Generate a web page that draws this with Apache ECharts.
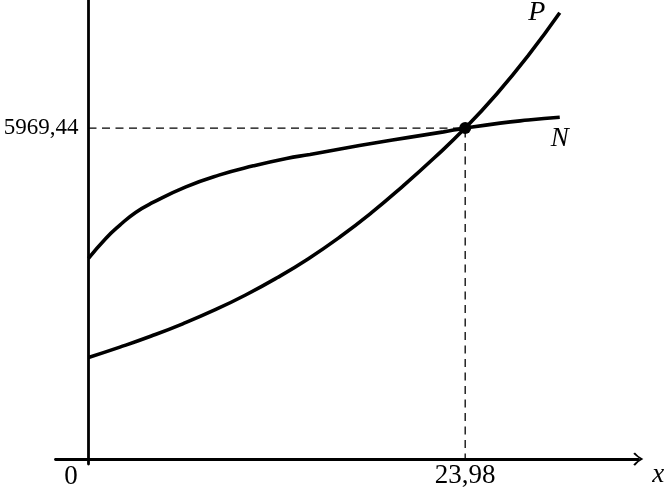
<!DOCTYPE html>
<html>
<head>
<meta charset="utf-8">
<script src="https://cdn.jsdelivr.net/npm/echarts@6/dist/echarts.min.js"></script>
<style>
html,body{margin:0;padding:0;background:#fff;}
#chart{width:666px;height:493px;}
</style>
</head>
<body>
<div id="chart"></div>
<script>
// Values
const P_x = [0, 2, 4, 6, 8, 10, 12, 14, 16, 18, 20, 22, 23.98, 26, 28, 30];
const P_y = [1834, 2020, 2220, 2440, 2685, 2960, 3270, 3615, 4005, 4440, 4920, 5430, 5969.44, 6590, 7280, 8049];
const N_x = [0, 1.1, 2.0, 3.0, 4.1, 6.2, 8.3, 10.5, 12.6, 14.1, 16.2, 18.3, 20.4, 22.6, 23.98, 26.2, 28, 30];
const N_y = [3619, 3980, 4220, 4449, 4629, 4911, 5122, 5289, 5423, 5495, 5603, 5704, 5802, 5902, 5969.44, 6060, 6115, 6166];
const crossX = 23.98;
const crossY = 5969.44;
const xTickLabel = '23,98';
const yTickLabel = '5969,44';
const originLabel = '0';
const seriesNames = ['P', 'N'];
const axisName = 'x';

const zip = (xs, ys) => xs.map((x, i) => [x, ys[i]]);
const serif = 'Liberation Serif';
const chevron = 'path://M10 0 Q6 8 0 12.5 L2 15 Q6 10.5 10 5 Q14 10.5 18 15 L20 12.5 Q14 8 10 0 Z';
const textStyle = {fontFamily: serif, fontSize: 27, color: '#000', opacity: 1};

const chart = echarts.init(document.getElementById('chart'), null, {renderer: 'canvas'});
chart.setOption({
  animation: false,
  backgroundColor: '#fff',
  grid: {left: 55.5, right: 27.7, top: 0, bottom: 28.9, containLabel: false, outerBoundsMode: 'none'},
  xAxis: {
    type: 'value', min: -2.1, max: 35,
    splitLine: {show: false}, axisTick: {show: false}, axisLabel: {show: false},
    axisLine: {onZero: true, symbol: ['none', chevron], symbolSize: [15, 10],
      lineStyle: {color: '#000', width: 2.8}},
    name: axisName, nameLocation: 'end', nameGap: 14,
    nameTextStyle: {fontFamily: serif, fontStyle: 'italic', fontSize: 27, color: '#000',
      verticalAlign: 'top', align: 'left', padding: [2, 0, 0, 0]}
  },
  yAxis: {
    type: 'value', min: -90, max: 8280,
    splitLine: {show: false}, axisTick: {show: false}, axisLabel: {show: false},
    axisLine: {onZero: true, lineStyle: {color: '#000', width: 2.8}}
  },
  series: [
    {
      type: 'line', name: 'guides', data: [[0, crossY], [crossX, crossY], [crossX, 0]],
      symbol: 'none', lineStyle: {color: '#000', width: 1.3, type: [8, 5.5]}, z: 1
    },
    {
      type: 'line', name: seriesNames[0], data: zip(P_x, P_y), smooth: 0.5,
      symbol: 'none', lineStyle: {color: '#000', width: 3.6}, z: 3,
      endLabel: Object.assign({show: true, formatter: seriesNames[0], distance: 0, align: 'center',
        verticalAlign: 'middle', offset: [-23, 0], fontStyle: 'italic'}, textStyle, {fontSize: 28})
    },
    {
      type: 'line', name: seriesNames[1], data: zip(N_x, N_y), smooth: 0.5,
      symbol: 'none', lineStyle: {color: '#000', width: 3.6}, z: 3,
      endLabel: Object.assign({show: true, formatter: seriesNames[1], distance: 0, align: 'center',
        verticalAlign: 'middle', offset: [0, 22], fontStyle: 'italic'}, textStyle)
    },
    {
      type: 'scatter', name: 'cross', data: [[crossX, crossY]], symbolSize: 12,
      itemStyle: {color: '#000', opacity: 1}, z: 4
    },
    {
      type: 'scatter', name: 'origin', data: [[0, 0]], symbolSize: 0, z: 4,
      itemStyle: {opacity: 1},
      label: Object.assign({show: true, formatter: originLabel, position: 'inside', offset: [-17.5, 18]}, textStyle)
    },
    {
      type: 'scatter', name: 'xtick', data: [[crossX, 0]], symbolSize: 0, z: 4,
      itemStyle: {opacity: 1},
      label: Object.assign({show: true, formatter: xTickLabel, position: 'bottom', distance: 3}, textStyle)
    },
    {
      type: 'scatter', name: 'ytick', data: [[0, crossY]], symbolSize: 0, z: 4,
      itemStyle: {opacity: 1},
      label: Object.assign({show: true, formatter: yTickLabel, position: 'left', distance: 10}, textStyle, {fontSize: 23})
    }
  ]
});
</script>
</body>
</html>
